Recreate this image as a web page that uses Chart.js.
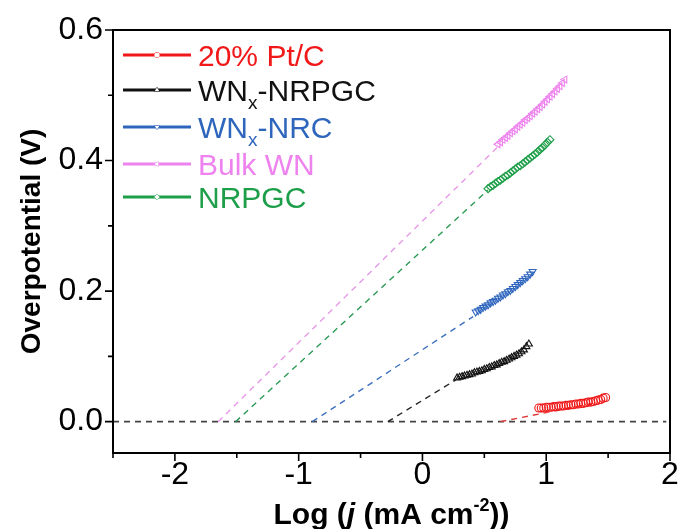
<!DOCTYPE html>
<html>
<head>
<meta charset="utf-8">
<script src="https://cdn.jsdelivr.net/npm/chart.js@4.4.0/dist/chart.umd.min.js"></script>
<style>
  html, body { margin: 0; padding: 0; background: #fff; }
</style>
</head>
<body>
<canvas id="tafel" width="679" height="529"></canvas>
<script>
// Tafel data: log(j) vs overpotential
const ptcLogJ = [0.94, 0.96, 0.98, 1.00, 1.02, 1.04, 1.06, 1.08, 1.10, 1.12, 1.14, 1.16, 1.18, 1.20, 1.22, 1.24, 1.26, 1.28, 1.30, 1.32, 1.34, 1.36, 1.38, 1.40, 1.42, 1.44, 1.46, 1.48];
const ptcEta  = [0.021, 0.021, 0.021, 0.022, 0.022, 0.022, 0.023, 0.023, 0.024, 0.024, 0.024, 0.025, 0.025, 0.026, 0.026, 0.027, 0.027, 0.028, 0.028, 0.029, 0.030, 0.030, 0.031, 0.032, 0.033, 0.034, 0.036, 0.037];

const wnxNrpgcLogJ = [0.28, 0.30, 0.32, 0.34, 0.36, 0.38, 0.40, 0.42, 0.44, 0.46, 0.48, 0.50, 0.52, 0.54, 0.56, 0.58, 0.60, 0.62, 0.64, 0.66, 0.68, 0.70, 0.72, 0.74, 0.76, 0.78, 0.80, 0.82, 0.84, 0.86];
const wnxNrpgcEta  = [0.067, 0.068, 0.069, 0.070, 0.071, 0.072, 0.073, 0.075, 0.076, 0.077, 0.078, 0.080, 0.081, 0.083, 0.084, 0.086, 0.087, 0.089, 0.091, 0.092, 0.094, 0.096, 0.098, 0.100, 0.102, 0.104, 0.107, 0.110, 0.115, 0.119];

const wnxNrcLogJ = [0.43, 0.45, 0.47, 0.49, 0.51, 0.53, 0.55, 0.57, 0.59, 0.61, 0.63, 0.65, 0.67, 0.69, 0.71, 0.73, 0.75, 0.77, 0.79, 0.81, 0.83, 0.85, 0.87, 0.89];
const wnxNrcEta  = [0.168, 0.170, 0.172, 0.175, 0.177, 0.179, 0.182, 0.184, 0.186, 0.189, 0.191, 0.194, 0.196, 0.199, 0.201, 0.204, 0.207, 0.210, 0.213, 0.216, 0.219, 0.222, 0.226, 0.230];

const bulkLogJ = [0.61, 0.63, 0.65, 0.67, 0.69, 0.71, 0.73, 0.75, 0.77, 0.79, 0.81, 0.83, 0.85, 0.87, 0.89, 0.91, 0.93, 0.95, 0.97, 0.99, 1.01, 1.03, 1.05, 1.07, 1.09, 1.11, 1.13, 1.15];
const bulkEta  = [0.425, 0.428, 0.432, 0.435, 0.438, 0.442, 0.445, 0.448, 0.452, 0.455, 0.458, 0.462, 0.465, 0.468, 0.472, 0.475, 0.479, 0.482, 0.486, 0.490, 0.494, 0.498, 0.502, 0.506, 0.510, 0.514, 0.519, 0.524];

const nrpgcLogJ = [0.53, 0.55, 0.57, 0.59, 0.61, 0.63, 0.65, 0.67, 0.69, 0.71, 0.73, 0.75, 0.77, 0.79, 0.81, 0.83, 0.85, 0.87, 0.89, 0.91, 0.93, 0.95, 0.97, 0.99, 1.01, 1.03];
const nrpgcEta  = [0.357, 0.360, 0.362, 0.365, 0.368, 0.370, 0.373, 0.376, 0.378, 0.381, 0.384, 0.387, 0.390, 0.392, 0.395, 0.398, 0.401, 0.404, 0.407, 0.410, 0.413, 0.417, 0.420, 0.424, 0.428, 0.432];

// extrapolated fits down to zero overpotential
const ptcFitLogJ = [0.63, 1.40];       const ptcFitEta = [0, 0.029];
const wnxNrpgcFitLogJ = [-0.28, 0.27]; const wnxNrpgcFitEta = [0, 0.064];
const wnxNrcFitLogJ = [-0.89, 0.41];   const wnxNrcFitEta = [0, 0.161];
const bulkFitLogJ = [-1.65, 0.62];     const bulkFitEta = [0, 0.423];
const nrpgcFitLogJ = [-1.51, 0.53];    const nrpgcFitEta = [0, 0.355];

const zeroLogJ = [-2.5, 1.97];
const zeroEta = [0, 0];

const seriesNames = ['20% Pt/C', 'WN_x-NRPGC', 'WN_x-NRC', 'Bulk WN', 'NRPGC'];

const xTicks = [-2, -1, 0, 1, 2];
const xMinor = [-2.5, -1.5, -0.5, 0.5, 1.5];
const yTicks = [0, 0.2, 0.4, 0.6];
const yMinor = [0.1, 0.3, 0.5];

const FONT = "'Liberation Sans', Arial, sans-serif";

function pts(xs, ys) {
  return xs.map((x, i) => ({ x: x, y: ys[i] }));
}

const series = [
  { x: ptcLogJ, y: ptcEta, fx: ptcFitLogJ, fy: ptcFitEta, color: '#f01818', fit: '#e03838', marker: 'circle', rot: 0 },
  { x: wnxNrpgcLogJ, y: wnxNrpgcEta, fx: wnxNrpgcFitLogJ, fy: wnxNrpgcFitEta, color: '#111111', fit: '#222222', marker: 'triangle', rot: 0 },
  { x: wnxNrcLogJ, y: wnxNrcEta, fx: wnxNrcFitLogJ, fy: wnxNrcFitEta, color: '#2f66bd', fit: '#3f70bf', marker: 'triangle', rot: 180 },
  { x: bulkLogJ, y: bulkEta, fx: bulkFitLogJ, fy: bulkFitEta, color: '#ee82ee', fit: '#e69ae6', marker: 'triangle', rot: -90 },
  { x: nrpgcLogJ, y: nrpgcEta, fx: nrpgcFitLogJ, fy: nrpgcFitEta, color: '#1d9e48', fit: '#2a9a55', marker: 'rectRot', rot: 0 }
];

const datasets = [];
series.forEach((s, i) => {
  datasets.push({
    label: seriesNames[i],
    data: pts(s.x, s.y),
    showLine: false,
    pointStyle: s.marker,
    rotation: s.rot,
    pointRadius: 4,
    borderColor: s.color,
    backgroundColor: 'rgba(255,255,255,0)',
    pointBorderWidth: 1.1,
    order: 1
  });
  datasets.push({
    label: seriesNames[i] + ' fit',
    data: pts(s.fx, s.fy),
    showLine: true,
    pointRadius: 0,
    borderColor: s.fit,
    borderWidth: 1.4,
    borderDash: [6, 5],
    order: 2
  });
});
datasets.push({
  label: 'zero',
  data: pts(zeroLogJ, zeroEta),
  showLine: true,
  pointRadius: 0,
  borderColor: '#444444',
  borderWidth: 1.8,
  borderDash: [6, 5],
  order: 3
});

// frame, tick marks, axis titles, legend
const decor = {
  id: 'decor',
  afterDraw(chart) {
    const ctx = chart.ctx;
    const a = chart.chartArea;
    const xs = chart.scales.x, ys = chart.scales.y;
    ctx.save();
    ctx.strokeStyle = '#000';
    ctx.lineWidth = 2;
    ctx.strokeRect(a.left, a.top, a.right - a.left, a.bottom - a.top);

    ctx.lineWidth = 1.6;
    ctx.beginPath();
    xTicks.forEach(v => { const p = xs.getPixelForValue(v); ctx.moveTo(p, a.bottom); ctx.lineTo(p, a.bottom + 8); });
    xMinor.forEach(v => { const p = xs.getPixelForValue(v); ctx.moveTo(p, a.bottom); ctx.lineTo(p, a.bottom + 5); });
    yTicks.forEach(v => { const p = ys.getPixelForValue(v); ctx.moveTo(a.left, p); ctx.lineTo(a.left - 8, p); });
    yMinor.forEach(v => { const p = ys.getPixelForValue(v); ctx.moveTo(a.left, p); ctx.lineTo(a.left - 5, p); });
    ctx.stroke();

    // y title
    ctx.fillStyle = '#000';
    ctx.font = 'bold 28px ' + FONT;
    ctx.textAlign = 'center';
    ctx.textBaseline = 'middle';
    ctx.save();
    ctx.translate(32, (a.top + a.bottom) / 2);
    ctx.rotate(-Math.PI / 2);
    ctx.fillText('Overpotential (V)', 0, 0);
    ctx.restore();

    // x title with italic j and superscript
    const parts = [
      { t: 'Log (', f: 'bold 30px ', dy: 0 },
      { t: 'j', f: 'italic bold 30px ', dy: 0 },
      { t: ' (mA cm', f: 'bold 30px ', dy: 0 },
      { t: '-2', f: 'bold 18px ', dy: -13 },
      { t: '))', f: 'bold 30px ', dy: 0 }
    ];
    ctx.textAlign = 'left';
    ctx.textBaseline = 'alphabetic';
    let w = 0;
    parts.forEach(p => { ctx.font = p.f + FONT; p.w = ctx.measureText(p.t).width; w += p.w; });
    let x = (a.left + a.right) / 2 - w / 2;
    parts.forEach(p => { ctx.font = p.f + FONT; ctx.fillText(p.t, x, 524 + p.dy); x += p.w; });

    // legend
    const rowY = [55, 90, 127, 164, 197];
    series.forEach((s, i) => {
      const y = rowY[i];
      ctx.strokeStyle = s.color;
      ctx.lineWidth = 3;
      ctx.beginPath();
      ctx.moveTo(123, y);
      ctx.lineTo(191, y);
      ctx.stroke();
      ctx.fillStyle = '#fff';
      ctx.lineWidth = 1;
      Chart.helpers.drawPoint(ctx, { pointStyle: s.marker, rotation: s.rot, radius: 2.6, borderWidth: 1 }, 157, y);
      ctx.fill();

      ctx.fillStyle = s.color;
      const label = seriesNames[i].split('_');
      let tx = 198;
      const base = y + 11;
      ctx.font = '30px ' + FONT;
      ctx.fillText(label[0], tx, base);
      tx += ctx.measureText(label[0]).width;
      if (label.length > 1) {
        const sub = label[1][0];
        ctx.font = '19px ' + FONT;
        ctx.fillText(sub, tx, base + 8);
        tx += ctx.measureText(sub).width;
        ctx.font = '30px ' + FONT;
        ctx.fillText(label[1].slice(1), tx, base);
      }
    });
    ctx.restore();
  }
};

new Chart(document.getElementById('tafel'), {
  type: 'scatter',
  data: { datasets: datasets },
  options: {
    responsive: false,
    animation: false,
    layout: { padding: { top: 30, right: 9, left: 0, bottom: 0 } },
    plugins: { legend: { display: false }, tooltip: { enabled: false } },
    scales: {
      x: {
        type: 'linear',
        min: -2.5,
        max: 2,
        afterBuildTicks: sc => { sc.ticks = xTicks.map(v => ({ value: v })); },
        afterFit: sc => { sc.height = 76; sc.paddingLeft = 0; sc.paddingRight = 0; },
        grid: { display: false, drawTicks: false },
        border: { display: false },
        ticks: {
          padding: 3,
          color: '#000',
          font: { family: FONT, size: 32 },
          callback: v => String(v)
        }
      },
      y: {
        type: 'linear',
        min: -0.048,
        max: 0.6,
        afterBuildTicks: sc => { sc.ticks = yTicks.map(v => ({ value: v })); },
        afterFit: sc => { sc.width = 113; sc.paddingTop = 0; sc.paddingBottom = 0; },
        grid: { display: false, drawTicks: false },
        border: { display: false },
        ticks: {
          padding: 10,
          color: '#000',
          font: { family: FONT, size: 32 },
          callback: v => v.toFixed(1)
        }
      }
    }
  },
  plugins: [decor]
});
</script>
</body>
</html>
